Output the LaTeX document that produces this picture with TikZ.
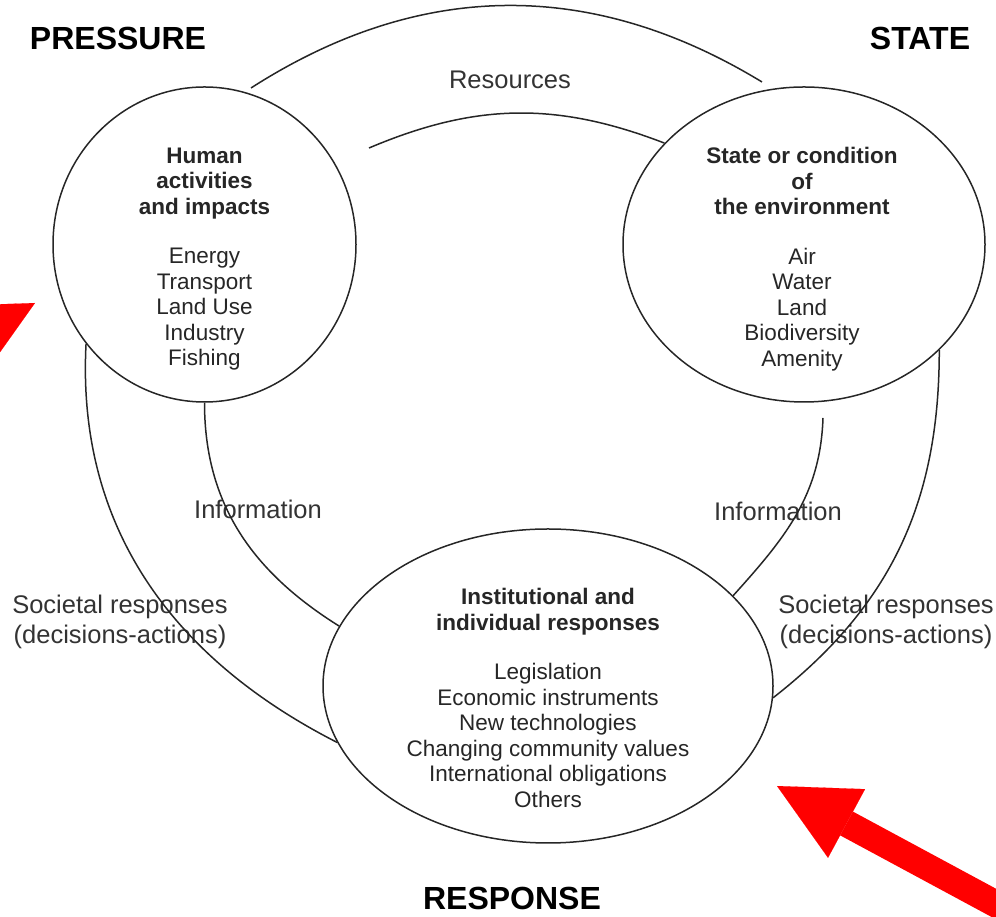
\documentclass[tikz,border=0pt]{standalone}
\usepackage{fontspec}
\setmainfont{Liberation Sans}
\usetikzlibrary{shapes.geometric,arrows.meta}

\begin{document}
\begin{tikzpicture}[x=1pt, y=1pt,
        ring/.style={draw=black!85, line width=1.5pt, ellipse},
        flow/.style={draw=black!85, line width=1.5pt},
        body/.style={align=center, text=black!85, font=\fontsize{22.5}{25.5}\selectfont},
        lbl/.style={align=center, text=black!80, font=\fontsize{25.5}{30}\selectfont},
        corner/.style={font=\fontsize{32}{38}\selectfont\bfseries},
        pointer/.style={red, line width=27pt, -{Triangle[length=79pt, width=78pt, line width=0.1pt]}}]
        \useasboundingbox (0,0) rectangle (996,917);
        \clip (0,0) rectangle (996,917);

        \node[ring, minimum width=303pt, minimum height=315pt] (press) at (204.5,672.5) {};
        \node[ring, minimum width=362pt, minimum height=315pt] (state) at (804,672.5) {};
        \node[ring, minimum width=450pt, minimum height=314pt] (resp) at (548,231) {};

        \node[body] (presstxt) at ([yshift=-14.5pt]press.center)
            {\textbf{Human}\\\textbf{activities}\\\textbf{and impacts}\\[24pt]Energy\\Transport\\Land Use\\Industry\\Fishing};
        \node[body] (statetxt) at ([xshift=-2pt, yshift=-14.5pt]state.center)
            {\textbf{State or condition}\\\textbf{of}\\\textbf{the environment}\\[24pt]Air\\Water\\Land\\Biodiversity\\Amenity};
        \node[body] (resptxt) at ([yshift=-12pt]resp.center)
            {\textbf{Institutional and}\\\textbf{individual responses}\\[24pt]Legislation\\Economic instruments\\New technologies\\Changing community values\\International obligations\\Others};

        \node[corner] (tpress) at (118,879) {PRESSURE};
        \node[corner] (tstate) at (920,879) {STATE};
        \node[corner] (tresp) at (512,19) {RESPONSE};

        \node[lbl] (res) at (510,837) {Resources};
        \node[lbl] (infoL) at (258,408) {Information};
        \node[lbl] (infoR) at (778,406) {Information};
        \node[lbl] (socL) at (120,295) {Societal responses\\(decisions-actions)};
        \node[lbl] (socR) at (886,295) {Societal responses\\(decisions-actions)};

        \coordinate (resA) at (251,829);
        \coordinate (resB) at (762,835);
        \coordinate (resC) at (369,769);
        \coordinate (infoTop) at (823,499);

        \draw[flow] (resA) to[bend left=32] (resB);
        \draw[flow] (resC) to[bend left=22] (state.144);
        \draw[flow] (press.270) to[out=-90, in=148] (resp.164);
        \draw[flow] (press.220) to[out=-93, in=153] (resp.195);
        \draw[flow] (infoTop) to[out=-92, in=48] (resp.26);
        \draw[flow] (state.-38) to[out=-90, in=38] (resp.-3);

        \coordinate (tipR) at (777,131);
        \coordinate (tailR) at (1059,-21);
        \coordinate (tipL) at (35,614);
        \coordinate (tailL) at (-247,462);
        \draw[pointer] (tailR) -- (tipR);
        \draw[pointer] (tailL) -- (tipL);
\end{tikzpicture}
\end{document}
